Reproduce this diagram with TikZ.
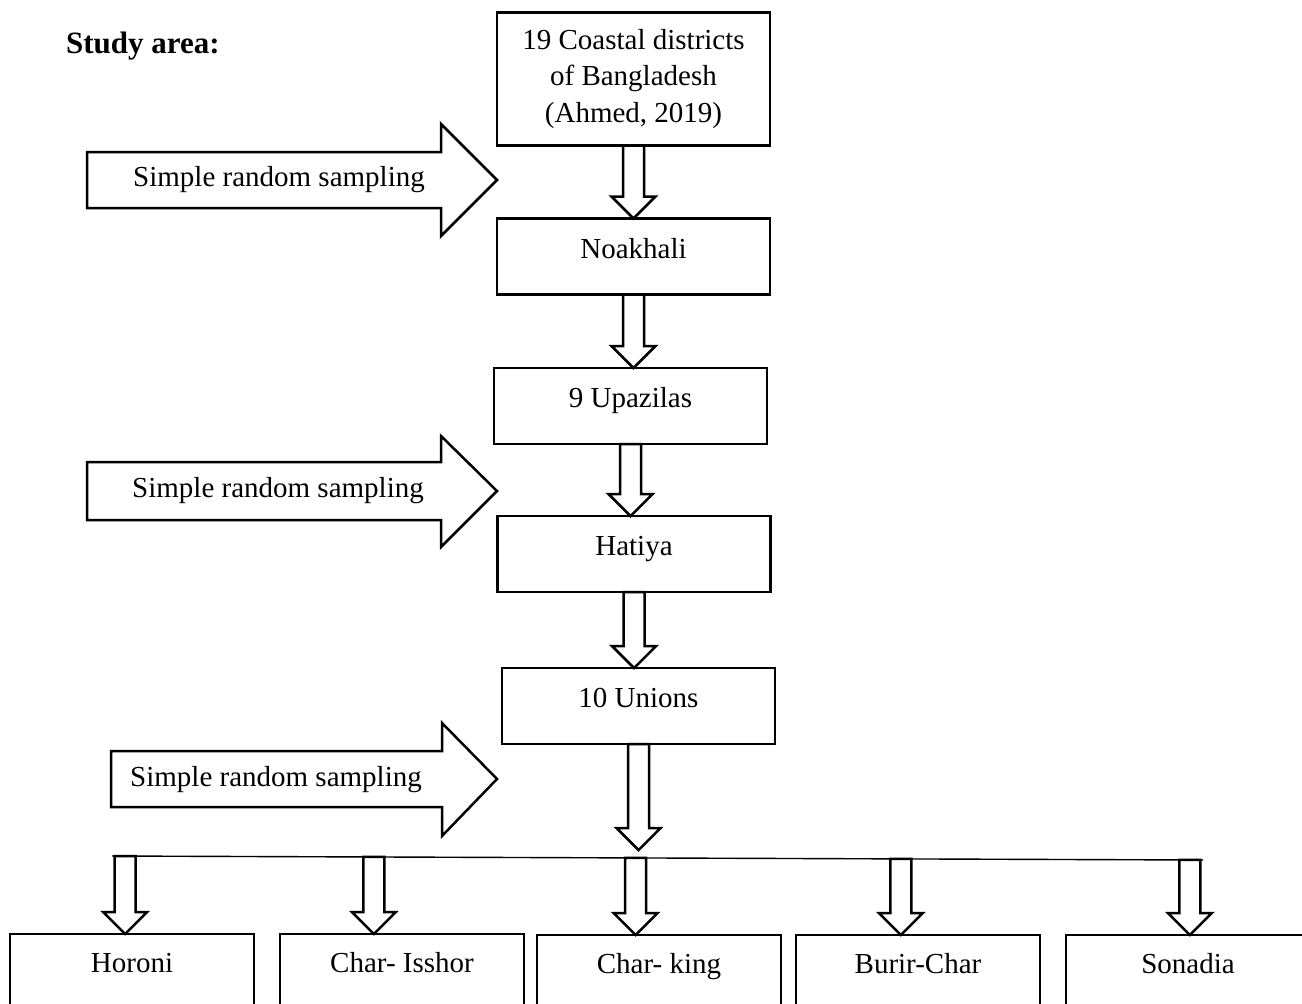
\documentclass[tikz,border=0pt]{standalone}
\usepackage{fontspec}
\setmainfont{Liberation Serif}
\usetikzlibrary{calc,positioning}

% hollow block arrow pointing down, from #1 to the height of #2
\newcommand{\blockarrow}[2]{%
  \draw[hollow] let \p1=(#1), \p2=(#2) in
    (\x1-5.25pt,\y1) -- (\x1-5.25pt,\y2+11pt) -- (\x1-11pt,\y2+11pt) -- (\x1,\y2)
    -- (\x1+11pt,\y2+11pt) -- (\x1+5.25pt,\y2+11pt) -- (\x1+5.25pt,\y1) -- cycle;}

\begin{document}
\begin{tikzpicture}[
    x=0.5pt, y=-0.5pt,
    frame/.style={draw, line width=1.3pt, outer sep=0pt, minimum width=136.5pt, font=\fontsize{14.5}{18.25}\selectfont},
    box/.style={frame, minimum height=38pt, text height=10pt, text depth=8.4pt},
    leaf/.style={box, minimum width=122pt, text depth=9.4pt},
    hollow/.style={draw, line width=1.25pt, line join=miter},
    srstext/.style={font=\fontsize{14.5}{18.25}\selectfont}
]
    \useasboundingbox (0,0) rectangle (1302,1003);
    \clip (0,0) rectangle (1302,1003);

    \node[font=\bfseries\fontsize{15.5}{18}\selectfont, anchor=base west] (title) at (59,53) {Study area:};

    % main column
    \node[frame, minimum height=66.5pt, align=center] (coast) at (633.5,79) {19 Coastal districts\\of Bangladesh\\(Ahmed, 2019)};
    \node[box] (noak) at (633.5,256.5) {Noakhali};
    \node[box] (upaz) at (630.5,406) {9 Upazilas};
    \node[box] (hatiya) at (634,554) {Hatiya};
    \node[box] (unions) at (638.5,706) {10 Unions};

    % unions
    \node[leaf] (horoni) at (132,972) {Horoni};
    \node[leaf] (isshor) at (402,972) {Char- Isshor};
    \node[leaf] (king) at (659,973) {Char- king};
    \node[leaf] (burir) at (918,973) {Burir-Char};
    \node[leaf] (sonadia) at (1188,973) {Sonadia};

    \blockarrow{coast.south}{noak.north}
    \blockarrow{noak.south}{upaz.north}
    \blockarrow{upaz.south}{hatiya.north}
    \blockarrow{hatiya.south}{unions.north}

    \coordinate (fork) at (638.5,850);
    \blockarrow{unions.south}{fork}

    \coordinate (lineL) at (112,856);
    \coordinate (lineR) at (1203,860);
    \draw[line width=0.7pt] (lineL) -- (lineR)
        coordinate[pos=0.012] (d1) coordinate[pos=0.240] (d2) coordinate[pos=0.480] (d3)
        coordinate[pos=0.723] (d4) coordinate[pos=0.988] (d5);
    \blockarrow{d1}{horoni.north}
    \blockarrow{d2}{isshor.north}
    \blockarrow{d3}{king.north}
    \blockarrow{d4}{burir.north}
    \blockarrow{d5}{sonadia.north}

    % sampling arrows
    \draw[hollow] (87,152) -- (441,152) -- (441,124) -- (497,180) -- (441,236) -- (441,208) -- (87,208) -- cycle;
    \node[srstext] (srs1) at (279,180) {Simple random sampling};
    \draw[hollow] (87,462) -- (441,462) -- (441,436) -- (497,491) -- (441,547) -- (441,520) -- (87,520) -- cycle;
    \node[srstext] (srs2) at (278,491) {Simple random sampling};
    \draw[hollow] (111,751) -- (442,751) -- (442,723) -- (497,779) -- (442,836) -- (442,807) -- (111,807) -- cycle;
    \node[srstext] (srs3) at (276,780) {Simple random sampling};
\end{tikzpicture}
\end{document}
